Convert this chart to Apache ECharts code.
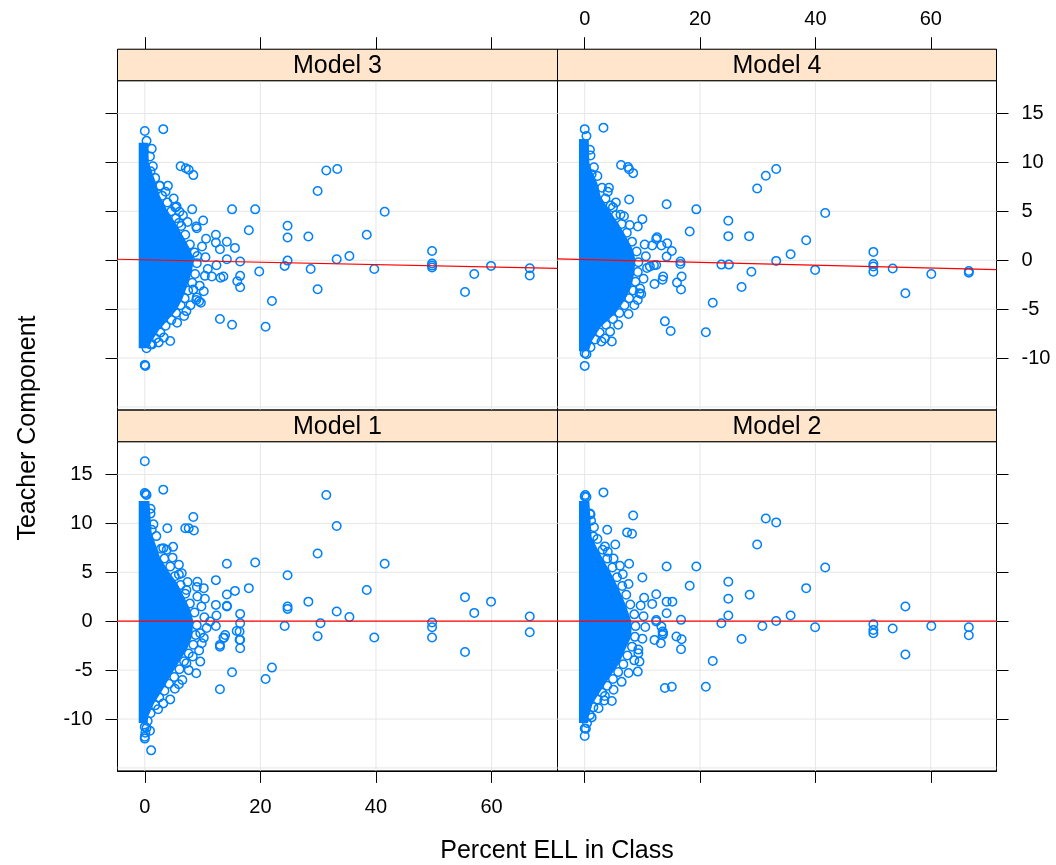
<!DOCTYPE html>
<html><head><meta charset="utf-8">
<script src="https://cdn.jsdelivr.net/npm/echarts@6/dist/echarts.min.js"></script>
<style>html,body{margin:0;padding:0;background:#fff}#c{width:1056px;height:865px}</style>
</head><body><div id="c"></div>
<script>
// ---------- data ----------
const panelNames = ['Model 3', 'Model 4', 'Model 1', 'Model 2'];
const xTicks = [0, 20, 40, 60];
const yTicks = [-10, -5, 0, 5, 10, 15];
const yGridLines = [-15, -10, -5, 0, 5, 10, 15];
const xRange = [-4.72, 71.4];
const yRange = [-15.3, 18.35];
const fitIntercept = [0.04, 0.06, 0, 0];
const fitSlope = [-0.0122, -0.0143, 0, 0];

// dense cores (overlapping circles that render as solid blue)
const core3 = [[-1.05,12.0],[0.6,12.0],[0.7,10.0],[1.3,9.0],[2.0,7.8],[2.6,6.6],[3.8,5.2],[5.2,3.9],[6.6,2.5],[7.9,1.1],[8.5,0.0],[8.1,-1.3],[7.3,-2.7],[6.5,-4.0],[5.5,-5.1],[4.0,-6.1],[2.5,-7.1],[1.3,-8.2],[0.6,-9.0],[-1.05,-9.0]];
const core4 = [[-1.0,12.4],[0.7,12.4],[0.8,10.0],[1.4,8.9],[2.2,7.9],[2.8,6.5],[4.2,5.15],[5.8,3.8],[7.2,2.4],[8.4,1.05],[8.8,0.0],[8.6,-1.3],[8.1,-2.7],[7.0,-4.05],[5.4,-5.4],[2.8,-6.8],[1.3,-8.2],[0.7,-9.3],[-1.0,-9.3]];
const core1 = [[-1.05,12.3],[0.8,12.3],[1.2,9.0],[1.8,8.0],[2.6,6.6],[4.0,5.2],[5.6,3.9],[6.8,2.5],[7.9,1.15],[8.4,0.0],[8.2,-1.57],[7.3,-2.9],[5.8,-4.3],[4.4,-5.65],[3.1,-7.0],[1.6,-8.4],[0.6,-9.75],[0.5,-10.4],[-1.05,-10.4]];
const core2 = [[-1.0,12.3],[0.8,12.3],[1.2,8.6],[2.3,7.3],[3.6,5.9],[4.9,4.55],[6.0,3.2],[7.0,1.84],[8.1,0.0],[8.1,-1.57],[7.0,-2.93],[6.0,-4.3],[4.4,-5.66],[2.9,-7.0],[1.4,-8.4],[0.7,-9.75],[0.6,-10.4],[-1.0,-10.4]];

// circles at the edge of the dense cores
const fringe3 = [[0.3,12.2],[0.9,10.6],[1.4,9.6],[1.8,8.4],[2.6,7.6],[3.0,6.6],[3.9,5.9],[4.6,5.0],[5.4,4.3],[6.3,3.5],[7.0,2.6],[7.8,1.6],[8.6,0.8],[9.0,-0.3],[8.7,-1.4],[8.2,-2.3],[7.5,-3.1],[6.9,-3.9],[6.2,-4.6],[5.4,-5.4],[4.6,-6.1],[3.6,-6.7],[2.7,-7.4],[1.9,-8.0],[1.0,-8.6],[0.3,-9.0],[10.5,0.3],[10.9,-0.9],[10.4,-1.6],[9.9,1.4],[10.6,2.2],[9.5,-2.6],[8.4,-3.0],[7.9,-4.6],[6.8,-5.7],[5.6,-6.4],[3.3,-7.9],[2.4,-8.4],[7.4,3.9],[6.6,4.6],[5.0,6.3],[3.6,7.0]];
const fringe4 = [[0.3,12.7],[1.0,10.7],[1.6,9.5],[2.2,8.6],[3.0,7.4],[3.6,6.3],[4.5,5.6],[5.4,4.6],[6.4,3.7],[7.3,2.8],[8.2,1.9],[9.0,0.9],[9.3,-0.2],[9.2,-1.2],[8.8,-2.2],[8.4,-3.1],[7.7,-3.9],[6.9,-4.6],[6.0,-5.4],[4.9,-6.0],[3.7,-6.6],[2.6,-7.4],[1.8,-8.1],[1.0,-8.9],[0.3,-9.6],[10.6,0.4],[10.8,-0.8],[10.2,-1.9],[10.4,1.6],[9.6,-2.9],[8.6,-4.6],[7.6,-5.5],[5.8,-6.6],[4.4,-7.3],[2.9,-8.3],[7.8,3.6],[6.8,4.5],[5.4,5.9],[4.0,7.0]];
const fringe1 = [[0.3,12.9],[0.2,13.0],[1.0,11.0],[1.5,9.9],[2.0,8.7],[2.8,7.4],[3.4,6.4],[4.4,5.6],[5.2,4.6],[6.2,3.7],[7.0,2.8],[7.8,1.8],[8.6,0.9],[9.0,-0.4],[8.8,-1.4],[8.4,-2.4],[7.6,-3.3],[6.8,-4.1],[6.0,-4.9],[5.1,-5.7],[4.2,-6.4],[3.4,-7.1],[2.5,-7.8],[1.8,-8.6],[1.0,-9.4],[0.5,-10.2],[0.3,-10.9],[0.1,-11.4],[10.3,0.4],[10.7,-0.7],[10.2,-1.7],[9.8,1.5],[10.4,2.3],[9.4,-3.0],[8.3,-3.6],[7.6,-5.0],[6.5,-6.0],[5.2,-6.9],[3.2,-8.4],[2.3,-9.0],[7.4,4.0],[6.4,4.9],[4.8,6.5],[3.8,7.3]];
const fringe2 = [[0.3,12.7],[0.1,12.9],[1.0,10.9],[1.6,9.6],[2.2,8.4],[3.1,7.3],[3.9,6.4],[4.8,5.5],[5.6,4.5],[6.5,3.6],[7.2,2.7],[7.9,1.7],[8.6,0.7],[8.8,-0.5],[8.7,-1.6],[8.2,-2.6],[7.4,-3.5],[6.7,-4.4],[5.8,-5.2],[4.9,-5.9],[3.9,-6.6],[3.0,-7.3],[2.2,-8.0],[1.5,-8.8],[0.9,-9.6],[0.4,-10.4],[0.2,-11.0],[10.2,0.5],[10.5,-0.6],[10.0,-1.8],[9.7,1.6],[10.3,2.4],[9.3,-2.9],[8.6,-4.0],[7.6,-5.3],[6.4,-6.2],[5.0,-7.0],[3.4,-8.1],[2.4,-8.9],[7.6,3.8],[6.6,4.8],[5.0,6.4],[4.0,7.1]];

// individually visible points
const points3 = [[0,13.2],[3.2,13.4],[6.2,9.6],[7.1,9.4],[7.6,9.25],[8.4,8.7],[2.6,7.6],[4.0,7.6],[1.2,11.4],[1.0,9.1],[5.3,5.4],[6.0,4.95],[8.2,5.2],[15.1,5.2],[19.1,5.2],[10.1,4.06],[8.9,3.45],[5.9,3.8],[18.0,3.07],[12.3,2.6],[12.3,1.8],[14.2,1.88],[13.0,1.13],[15.6,1.26],[9.1,0.44],[14.2,0.1],[16.5,-0.14],[12.4,-0.52],[11.6,-1.67],[13.6,-1.67],[13.1,-1.8],[16.5,-1.6],[16.0,-2.15],[16.5,-2.77],[10.2,-3.18],[9.4,-4.2],[9.0,-3.8],[19.8,-1.16],[22.0,-4.17],[13.0,-6.0],[15.1,-6.6],[20.9,-6.8],[4.4,-8.26],[1.25,-8.6],[0,-10.7],[0.1,-10.8],[24.7,3.52],[24.7,2.32],[24.7,-0.04],[24.2,-0.58],[28.3,2.42],[28.7,-0.89],[29.9,-2.97],[29.9,7.07],[31.4,9.18],[33.3,9.32],[33.2,0.1],[35.4,0.44],[38.4,2.6],[41.5,4.95],[39.7,-0.89],[49.7,0.95],[49.7,-0.34],[49.7,-0.55],[49.7,-0.75],[55.4,-3.25],[57.0,-1.4],[59.9,-0.58],[66.6,-0.82],[66.6,-1.57],[8.9,-4.07],[9.7,-4.34],[7.2,-5.2],[9.0,3.27],[5.5,5.5]];
const points4 = [[0,13.4],[3.25,13.55],[0.9,11.3],[6.3,9.73],[7.5,9.52],[7.7,9.3],[8.4,8.9],[1.2,8.8],[4.2,7.4],[7.7,6.2],[4.9,5.4],[6.2,4.64],[14.2,5.73],[19.35,5.2],[10.0,4.2],[9.2,3.44],[18.2,2.93],[12.4,2.18],[11.7,1.5],[13.3,1.5],[14.3,1.74],[15.1,0.95],[14.2,0.37],[16.6,-0.14],[16.6,-0.38],[12.4,-0.48],[11.3,-0.65],[13.6,-1.67],[13.5,-2.0],[12.1,-2.43],[16.0,-2.29],[16.8,-1.67],[16.7,-3.0],[9.5,-3.38],[9.2,-4.07],[22.2,-4.34],[13.9,-6.25],[14.9,-7.24],[21.0,-7.37],[3.5,-8.0],[4.7,-8.3],[0,-10.8],[0,-9.5],[24.9,4.03],[24.9,2.46],[23.7,-0.45],[25.0,-0.45],[28.5,2.46],[28.9,-1.17],[27.2,-2.74],[29.9,7.34],[31.4,8.64],[33.2,9.32],[33.2,-0.07],[35.7,0.61],[38.4,2.05],[41.7,4.82],[39.95,-0.99],[50.05,0.85],[50.05,-0.38],[50.05,-0.65],[50.05,-1.17],[53.4,-0.85],[55.6,-3.38],[60.1,-1.4],[66.6,-1.1],[66.6,-1.27],[9.8,-3.45],[12.55,2.35],[12.0,-0.52]];
const points1 = [[0,16.35],[0,13.1],[3.2,13.45],[1.0,11.5],[8.4,10.65],[3.9,9.5],[7.0,9.5],[7.6,9.5],[8.5,9.28],[1.2,9.35],[3.2,7.47],[4.9,7.6],[5.9,5.77],[5.9,4.78],[12.3,4.2],[14.2,5.87],[19.1,6.0],[18.0,3.38],[15.6,3.1],[14.2,2.73],[10.2,3.38],[9.1,4.03],[9.1,2.53],[12.3,1.67],[14.2,1.57],[12.4,0.58],[16.5,0.75],[16.5,-0.2],[11.3,-0.03],[12.3,-0.48],[9.6,-1.23],[13.9,-1.4],[13.6,-1.7],[13.0,-2.42],[15.9,-1.0],[16.5,-1.9],[16.5,-2.76],[9.6,-4.13],[8.9,-5.32],[7.2,-4.3],[5.9,-6.45],[4.4,-7.99],[15.1,-5.22],[13.0,-6.96],[20.9,-5.9],[22.0,-4.74],[0.9,-11.2],[0,-12.0],[1.1,-13.2],[0,-10.8],[24.7,4.7],[24.7,1.5],[24.7,1.26],[24.2,-0.48],[28.3,2.0],[30.4,-0.2],[29.9,-1.54],[29.9,6.93],[31.4,12.9],[33.2,9.73],[33.2,0.99],[35.4,0.44],[38.4,3.2],[41.5,5.87],[39.7,-1.67],[49.7,-0.14],[49.7,-0.61],[49.7,-1.67],[55.4,2.46],[55.4,-3.14],[57.0,0.85],[59.9,2.0],[66.6,0.48],[66.6,-1.13],[16.4,-1.06],[16.4,-1.9],[13.7,-1.68],[13.0,-2.6],[0,-11.8],[7.2,3.2],[9.0,3.5],[9.85,-2.25],[14.2,1.5]];
const points2 = [[0,12.76],[3.25,13.17],[8.4,10.8],[0.9,11.0],[1.1,10.27],[3.9,9.35],[7.35,9.08],[8.2,8.94],[1.5,8.67],[3.5,7.65],[5.3,7.85],[7.7,5.87],[6.1,5.67],[14.2,5.6],[19.35,5.6],[10.0,4.47],[18.2,3.62],[24.9,4.03],[24.9,2.29],[24.9,0.58],[28.6,2.7],[12.4,2.76],[11.7,1.77],[14.2,2.0],[15.2,2.0],[14.2,0.82],[16.7,0.14],[12.4,-0.03],[13.5,-1.06],[13.5,-1.4],[13.2,-2.25],[12.1,-1.91],[15.9,-1.57],[16.8,-1.84],[16.7,-2.87],[9.3,-3.28],[9.5,-4.13],[9.2,-5.15],[22.2,-4.06],[13.9,-6.83],[15.1,-6.69],[21.0,-6.69],[3.5,-7.65],[4.7,-8.16],[1.2,-9.83],[0,-10.96],[0,-11.74],[23.7,-0.2],[30.8,-0.48],[27.2,-1.81],[29.9,7.85],[31.4,10.5],[33.2,10.1],[33.2,0.03],[35.7,0.58],[38.4,3.38],[41.7,5.5],[39.95,-0.61],[50.05,-0.31],[50.05,-0.89],[50.05,-1.23],[53.4,-0.75],[55.6,1.5],[55.6,-3.41],[60.1,-0.48],[66.6,-0.61],[66.6,-1.43],[12.4,0.13],[13.3,-0.55],[13.6,-1.23]];

const cores = [core3, core4, core1, core2];
const fringes = [fringe3, fringe4, fringe1, fringe2];
const points = [points3, points4, points1, points2];

// ---------- layout ----------
const FONT = 'Liberation Sans, Arial, Helvetica, sans-serif';
const L = 117.5, M = 557.5, R = 996.5;
const stripH = 31.5;
const rowTop = [80.7, 441.7];
const panelH = 329.2;
const layout = [
  {left: L, top: rowTop[0], width: M - L, height: panelH, row: 0, col: 0},
  {left: M, top: rowTop[0], width: R - M, height: panelH, row: 0, col: 1},
  {left: L, top: rowTop[1], width: M - L, height: panelH, row: 1, col: 0},
  {left: M, top: rowTop[1], width: R - M, height: panelH, row: 1, col: 1}
];
const BLUE = '#0080ff';

const grids = [], xAxes = [], yAxes = [], series = [], graphics = [];
layout.forEach((p, i) => {
  grids.push({left: p.left, top: p.top, width: p.width, height: p.height,
    show: true, borderColor: '#000', borderWidth: 1, backgroundColor: 'transparent', containLabel: false});
  const isTop = p.row === 0;
  const xLabels = (p.row === 1 && p.col === 0) || (p.row === 0 && p.col === 1);
  xAxes.push({gridIndex: i, type: 'value', min: xRange[0], max: xRange[1],
    position: isTop ? 'top' : 'bottom', offset: isTop ? stripH : 0,
    axisLine: {show: true, onZero: false, lineStyle: {color: '#000', width: 1}},
    axisTick: {show: true, inside: false, customValues: xTicks, length: 12, lineStyle: {color: '#000', width: 1}},
    axisLabel: {show: xLabels, customValues: xTicks, fontSize: 20, color: '#000', margin: isTop ? 20 : 27, fontFamily: FONT},
    splitLine: {show: false}});
  const yLabels = (p.col === 0 && p.row === 1) || (p.col === 1 && p.row === 0);
  yAxes.push({gridIndex: i, type: 'value', min: yRange[0], max: yRange[1],
    position: p.col === 0 ? 'left' : 'right',
    axisLine: {show: true, onZero: false, lineStyle: {color: '#000', width: 1}},
    axisTick: {show: true, inside: false, customValues: yTicks, length: 12, lineStyle: {color: '#000', width: 1}},
    axisLabel: {show: yLabels, customValues: yTicks, fontSize: 20, color: '#000', margin: 25, fontFamily: FONT},
    splitLine: {show: false}});

  // reference grid lines (drawn beneath everything else)
  series.push({type: 'custom', xAxisIndex: i, yAxisIndex: i, z: 1, silent: true, clip: true,
    data: [[xRange[0], yRange[0]]],
    renderItem: function (params, api) {
      const kids = [];
      const st = {stroke: '#e6e6e6', lineWidth: 1};
      xTicks.forEach(v => {
        const a = api.coord([v, yRange[0]]), b = api.coord([v, yRange[1]]);
        kids.push({type: 'line', shape: {x1: a[0], y1: a[1], x2: b[0], y2: b[1]}, style: st});
      });
      yGridLines.forEach(v => {
        const a = api.coord([xRange[0], v]), b = api.coord([xRange[1], v]);
        kids.push({type: 'line', shape: {x1: a[0], y1: a[1], x2: b[0], y2: b[1]}, style: st});
      });
      return {type: 'group', children: kids};
    }});

  // dense core
  const core = cores[i];
  series.push({type: 'custom', xAxisIndex: i, yAxisIndex: i, z: 2, silent: true, clip: true,
    data: core,
    renderItem: function (params, api) {
      if (params.dataIndex !== 0) return null;
      const pts = core.map(c => api.coord(c));
      return {type: 'polygon', shape: {points: pts}, style: {fill: BLUE}};
    }});

  // points
  series.push({type: 'scatter', xAxisIndex: i, yAxisIndex: i, z: 3, silent: true,
    data: fringes[i].concat(points[i]), symbol: 'circle', symbolSize: 8.5,
    itemStyle: {color: 'rgba(0,0,0,0)', borderColor: BLUE, borderWidth: 1.5, opacity: 1}});

  // regression line
  series.push({type: 'line', xAxisIndex: i, yAxisIndex: i, z: 4, silent: true, showSymbol: false,
    lineStyle: {color: '#ff0000', width: 1.2},
    data: xRange.map(x => [x, fitIntercept[i] + fitSlope[i] * x])});

  // strip
  const sy = p.top - stripH;
  graphics.push({type: 'rect', shape: {x: p.left, y: sy, width: p.width, height: stripH},
    style: {fill: '#ffe5cc', stroke: '#000', lineWidth: 1}, z: 10});
  graphics.push({type: 'text', x: p.left + p.width / 2, y: sy + stripH / 2 + 1, z: 11,
    style: {text: panelNames[i], fontSize: 25, fontFamily: FONT, fill: '#000', align: 'center', verticalAlign: 'middle'}});
});

graphics.push({type: 'text', x: (L + R) / 2, y: 851, z: 11,
  style: {text: 'Percent ELL in Class', fontSize: 25, fontFamily: FONT, fill: '#000', align: 'center', verticalAlign: 'middle'}});
graphics.push({type: 'text', x: 28, y: 428, rotation: Math.PI / 2, z: 11,
  style: {text: 'Teacher Component', fontSize: 25, fontFamily: FONT, fill: '#000', align: 'center', verticalAlign: 'middle'}});

const chart = echarts.init(document.getElementById('c'), null, {renderer: 'canvas'});
chart.setOption({
  animation: false,
  backgroundColor: '#fff',
  grid: grids, xAxis: xAxes, yAxis: yAxes, series: series, graphic: graphics
});
</script>
</body></html>
